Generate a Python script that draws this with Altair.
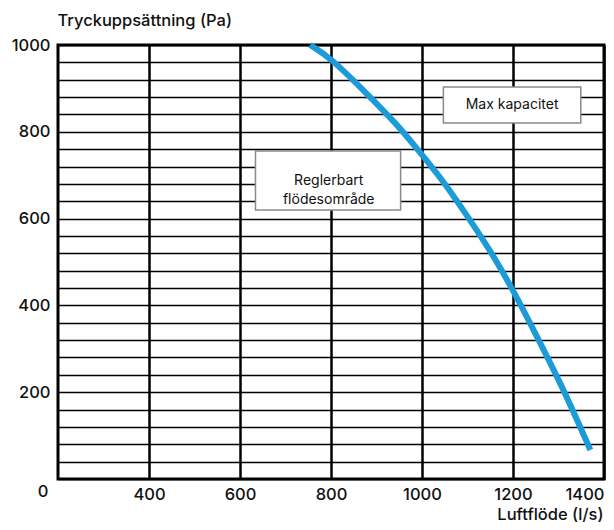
import altair as alt
import pandas as pd

# Fan curve
flow = [754, 800, 871, 943, 997, 1045, 1095, 1145, 1197, 1242, 1305, 1370]
pressure = [1000, 970, 896, 820, 751, 689, 613, 535, 442, 350, 221, 67]

x_ticks = [400, 600, 800, 1000, 1200, 1400]
y_grid = list(range(0, 1001, 40))

# Annotation boxes (data units)
box_labels = ["Reglerbart\nflödesområde", "Max kapacitet"]
box_x = [634, 1047]
box_x2 = [953, 1349]
box_y = [620, 820]
box_y2 = [756, 903]
label_x = [795, 1198]
label_y = [686, 862]

origin_label = ["0"]

FONT = "Inter"

curve_df = pd.DataFrame({"flow": flow, "pressure": pressure})
box_df = pd.DataFrame({
    "label": box_labels, "x": box_x, "x2": box_x2, "y": box_y, "y2": box_y2,
    "tx": label_x, "ty": label_y,
})
origin_df = pd.DataFrame({"label": origin_label, "x": [200], "y": [0]})

xscale = alt.Scale(domain=[200, 1400], nice=False, zero=False)
yscale = alt.Scale(domain=[0, 1000], nice=False)

x_axis = alt.Axis(
    values=x_ticks, format="d", title="Luftflöde (l/s)", grid=True, gridColor="black",
    gridWidth=2.5, domain=False, ticks=False, labelFlush=True, labelPadding=7,
    tickCount=50, labelOverlap=False,
    labelFontSize=16.5, labelFontWeight=500, labelColor="#111", labelFont=FONT,
    titleFont=FONT, titleFontSize=16.5, titleFontWeight=500, titleColor="#111",
    titleAnchor="end", titleAlign="right", titleX=545, titleY=35, titleBaseline="middle",
)
y_axis = alt.Axis(
    values=y_grid, format="d", title="Tryckuppsättning (Pa)", grid=True, gridColor="black",
    gridWidth=1.5, domain=False, ticks=False, labelPadding=8,
    tickCount=50, labelOverlap=False,
    labelExpr="datum.value % 200 == 0 && datum.value > 0 ? datum.label : ''",
    labelFontSize=16.5, labelFontWeight=500, labelColor="#111", labelFont=FONT,
    titleFont=FONT, titleFontSize=16.5, titleFontWeight=500, titleColor="#111",
    titleAngle=0, titleAlign="left", titleX=-1, titleY=-25, titleBaseline="middle",
)

curve = alt.Chart(curve_df).mark_line(
    color="#1b9bd7", strokeWidth=6, interpolate="basis", strokeCap="butt"
).encode(
    x=alt.X("flow:Q", scale=xscale, axis=x_axis),
    y=alt.Y("pressure:Q", scale=yscale, axis=y_axis),
)

boxes = alt.Chart(box_df).mark_rect(
    fill="white", stroke="#8a8a8a", strokeWidth=1.5
).encode(
    x="x:Q", x2="x2", y="y:Q", y2="y2"
)

box_text = alt.Chart(box_df).mark_text(
    font=FONT, fontSize=14, fontWeight="normal", color="#111", align="center",
    baseline="middle", lineBreak="\n", lineHeight=19
).encode(
    x="tx:Q", y="ty:Q", text="label:N"
)

origin = alt.Chart(origin_df).mark_text(
    font=FONT, fontSize=16.5, fontWeight=500, color="#111", align="center",
    baseline="middle", dx=-15, dy=13
).encode(
    x="x:Q", y="y:Q", text="label:N"
)

chart = alt.layer(curve, boxes, box_text, origin).properties(
    width=546, height=434,
    padding={"left": 50, "top": 37, "right": 2, "bottom": 43},
    autosize="none",
).configure_view(stroke="black", strokeWidth=3)

chart.save("out.html", embed_options={"renderer": "svg", "actions": False})
